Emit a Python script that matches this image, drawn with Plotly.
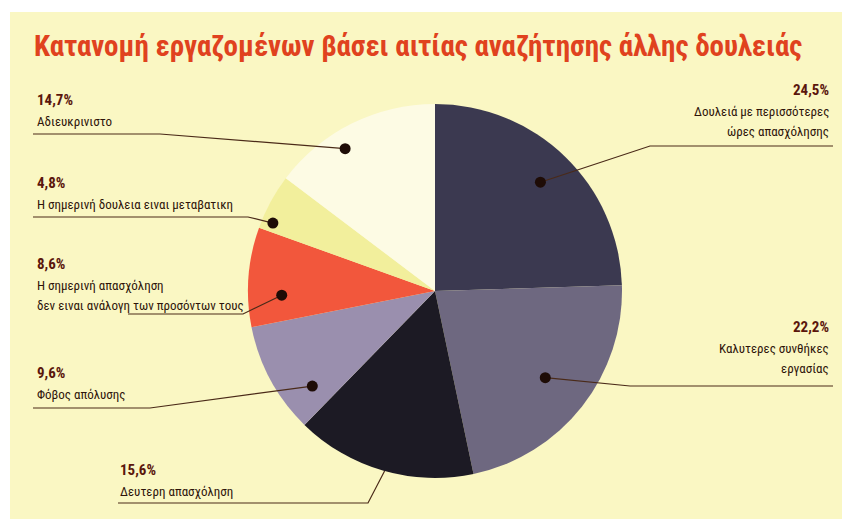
import math
import plotly.graph_objects as go

# ---- data ----
categories = [
    "Δουλειά με περισσότερες ώρες απασχόλησης",
    "Καλυτερες συνθήκες εργασίας",
    "Δευτερη απασχόληση",
    "Φόβος απόλυσης",
    "Η σημερινή απασχόληση δεν ειναι ανάλογη των προσόντων τους",
    "Η σημερινή δουλεια ειναι μεταβατικη",
    "Αδιευκρινιστο",
]
values = [24.5, 22.2, 15.6, 9.6, 8.6, 4.8, 14.7]
value_labels = ["24,5%", "22,2%", "15,6%", "9,6%", "8,6%", "4,8%", "14,7%"]
label_lines = [
    ["Δουλειά με περισσότερες", "ώρες απασχόλησης"],
    ["Καλυτερες συνθήκες", "εργασίας"],
    ["Δευτερη απασχόληση"],
    ["Φόβος απόλυσης"],
    ["Η σημερινή απασχόληση", "δεν ειναι ανάλογη των προσόντων τους"],
    ["Η σημερινή δουλεια ειναι μεταβατικη"],
    ["Αδιευκρινιστο"],
]
title_text = "Κατανομή εργαζομένων βάσει αιτίας αναζήτησης άλλης δουλειάς"

# ---- style / layout ----
W, H = 842, 524
colors = ["#3b3950", "#6e6880", "#1c1a24", "#9a8fae", "#f2573c", "#f2ef9c", "#fdfbe4"]
CX, CY, R = 435, 291, 187
# position of the dot inside each slice: (fraction of slice angle, fraction of radius, show dot)
dot_pos = [(0.5, 0.81, True), (0.5, 0.75, True), (0.49, 1.0, False), (0.23, 0.83, True),
           (0.31, 0.82, True), (0.17, 0.94, True), (0.39, 0.90, True)]
# label blocks: (x, y of percent text, anchor side, underline x0, underline x1, underline y)
label_pos = [
    (831, 90, "right", 833, 650, 146),
    (831, 327, "right", 833, 630, 386),
    (118, 470, "left", 118, 368, 503),
    (35, 373, "left", 33, 150, 408),
    (35, 264, "left", 128, 243, 314),
    (35, 183, "left", 33, 248, 217),
    (35, 100, "left", 33, 160, 134),
]
FONT = "Roboto Condensed, DejaVu Sans Condensed, sans-serif"
LINE_C = "#4a2a18"


def px(x):
    return x / W


def py(y):
    return 1 - y / H


fig = go.Figure()
fig.add_trace(go.Pie(
    labels=categories, values=values, sort=False, direction="clockwise", rotation=0,
    marker=dict(colors=colors, line=dict(width=0)), textinfo="none", hoverinfo="label+percent",
    showlegend=False,
    domain=dict(x=[px(CX - R), px(CX + R)], y=[py(CY + R), py(CY - R)]),
))

shapes = []
annotations = []
# yellow panel with white border
shapes.append(dict(type="rect", xref="paper", yref="paper", x0=px(10), x1=1.0, y0=py(519), y1=py(12),
                   fillcolor="#faf7c3", line=dict(width=0), layer="below"))

total = sum(values)
cum = 0.0
for i, v in enumerate(values):
    a0 = cum / total * 360
    a1 = (cum + v) / total * 360
    cum += v
    frac, rf, show = dot_pos[i]
    th = math.radians(a0 + frac * (a1 - a0))
    dx = CX + rf * R * math.sin(th)
    dy = CY - rf * R * math.cos(th)
    lx, ly, side, ux0, ux1, uy = label_pos[i]
    shapes.append(dict(type="path", xref="paper", yref="paper",
                       path=f"M {px(ux0)},{py(uy)} L {px(ux1)},{py(uy)} L {px(dx)},{py(dy)}",
                       line=dict(color=LINE_C, width=1.2), layer="above"))
    if show:
        r = 5.5
        shapes.append(dict(type="circle", xref="paper", yref="paper",
                           x0=px(dx - r), x1=px(dx + r), y0=py(dy + r), y1=py(dy - r),
                           fillcolor="#1e0c06", line=dict(width=0), layer="above"))
    annotations.append(dict(x=px(lx), y=py(ly), xref="paper", yref="paper", text="<b>" + value_labels[i] + "</b>",
                            showarrow=False, xanchor=side, yanchor="middle",
                            font=dict(family=FONT, size=15, color="#5a160c")))
    for j, t in enumerate(label_lines[i]):
        annotations.append(dict(x=px(lx), y=py(ly + 21 + 20 * j), xref="paper", yref="paper", text=t,
                                showarrow=False, xanchor=side, yanchor="middle",
                                font=dict(family=FONT, size=13, color="#2e140a")))

annotations.append(dict(x=px(32), y=py(46), xref="paper", yref="paper", text="<b>" + title_text + "</b>",
                        showarrow=False, xanchor="left", yanchor="middle",
                        font=dict(family=FONT, size=29, color="#e0421e")))

fig.update_layout(width=W, height=H, margin=dict(l=0, r=0, t=0, b=0), paper_bgcolor="white",
                  plot_bgcolor="white", shapes=shapes, annotations=annotations)
fig.write_html("out.html", config={"displayModeBar": False},
               post_script="document.body.style.margin='0';")
